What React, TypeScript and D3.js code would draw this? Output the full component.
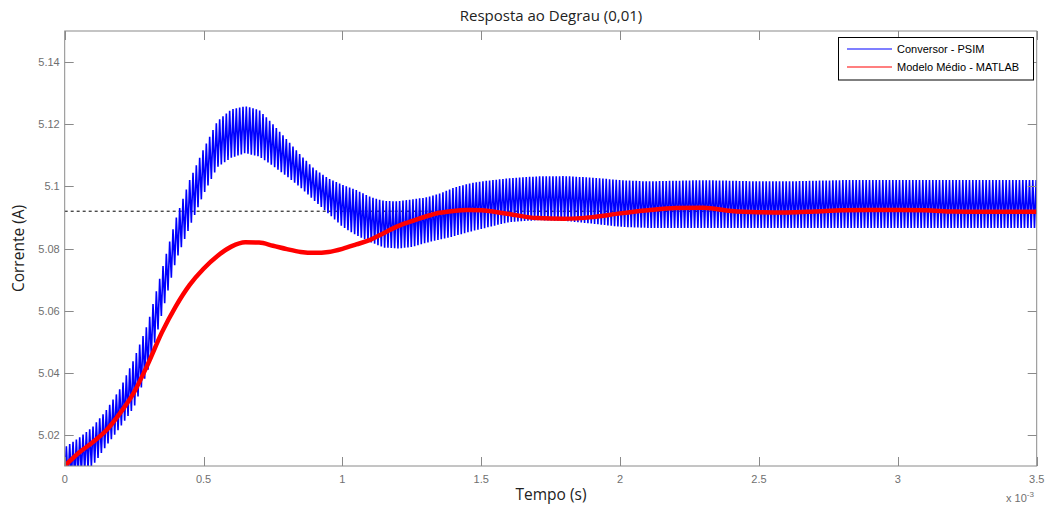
import React, { useEffect, useRef } from "react";
import * as d3 from "d3";

const timeMs = [0,0.05,0.1,0.15,0.2,0.25,0.3,0.35,0.4,0.45,0.5,0.55,0.6,0.65,0.7,0.75,0.8,0.85,0.9,0.95,1.0,1.05,1.1,1.15,1.2,1.25,1.3,1.35,1.4,1.45,1.5,1.6,1.7,1.8,1.9,2.0,2.1,2.2,2.3,2.4,2.5,2.6,2.7,2.8,2.9,3.0,3.1,3.2,3.3,3.4,3.5];

const psimUpper = [5.0160,5.0190,5.0225,5.0280,5.0350,5.0445,5.0560,5.0730,5.0895,5.1020,5.1120,5.1210,5.1248,5.1258,5.1246,5.1200,5.1150,5.1100,5.1055,5.1025,5.1005,5.0988,5.0966,5.0953,5.0952,5.0958,5.0964,5.0977,5.0995,5.1008,5.1016,5.1026,5.1032,5.1033,5.1028,5.1020,5.1016,5.1018,5.1020,5.1018,5.1016,5.1016,5.1018,5.1020,5.1020,5.1020,5.1020,5.1020,5.1020,5.1020,5.1020];

const psimLower = [5.0040,5.0070,5.0100,5.0165,5.0225,5.0290,5.0410,5.0590,5.0760,5.0870,5.0975,5.1062,5.1092,5.1107,5.1096,5.1066,5.1032,5.0996,5.0953,5.0912,5.0870,5.0843,5.0821,5.0803,5.0800,5.0805,5.0818,5.0829,5.0839,5.0852,5.0863,5.0885,5.0891,5.0889,5.0880,5.0870,5.0866,5.0866,5.0866,5.0866,5.0866,5.0866,5.0866,5.0866,5.0866,5.0866,5.0866,5.0866,5.0866,5.0866,5.0866];

const matlab = [5.0100,5.0142,5.0176,5.0215,5.0271,5.0338,5.0429,5.0530,5.0614,5.0683,5.0735,5.0776,5.0806,5.0820,5.0819,5.0809,5.0798,5.0789,5.0786,5.0789,5.0799,5.0813,5.0828,5.0850,5.0872,5.0888,5.0903,5.0915,5.0921,5.0924,5.0923,5.0911,5.0898,5.0896,5.0901,5.0913,5.0923,5.0930,5.0931,5.0921,5.0917,5.0916,5.0919,5.0923,5.0924,5.0924,5.0923,5.0919,5.0918,5.0918,5.0918];

const referenceLevel = 5.092;
const switchingPeriodMs = 0.012;

const xTicks = [0,0.5,1,1.5,2,2.5,3,3.5];
const xTickLabels = ["0","0.5","1","1.5","2","2.5","3","3.5"];
const yTicks = [5.02,5.04,5.06,5.08,5.1,5.12,5.14];
const yTickLabels = ["5.02","5.04","5.06","5.08","5.1","5.12","5.14"];

const seriesNames = ["Conversor - PSIM", "Modelo Médio - MATLAB"];
const seriesColors = ["#0000ff", "#ff0000"];
const titleText = "Resposta ao Degrau (0,01)";
const xLabel = "Tempo (s)";
const yLabel = "Corrente (A)";

const W = 1047, H = 509;
const M = { left: 64.7, right: 1036.7, top: 31, bottom: 466 };

export default function App() {
  const ref = useRef<SVGSVGElement>(null);
  useEffect(() => {
    const svg = d3.select(ref.current);
    svg.selectAll("*").remove();
    const x = d3.scaleLinear().domain([0, 3.5]).range([M.left, M.right]);
    const y = d3.scaleLinear().domain([5.01, 5.15]).range([M.bottom, M.top]);
    const axisColor = "#8a8a8a";
    const labelColor = "#6f6f6f";
    const tickFont = "'Liberation Sans', Arial, sans-serif";

    svg.append("rect").attr("x", 0).attr("y", 0).attr("width", W).attr("height", H).attr("fill", "#fff");

    const defs = svg.append("defs");
    defs.append("clipPath").attr("id", "plotclip").append("rect")
      .attr("x", M.left).attr("y", M.top).attr("width", M.right - M.left).attr("height", M.bottom - M.top);

    const g = svg.append("g").attr("clip-path", "url(#plotclip)");

    // reference dashed line
    g.append("line")
      .attr("x1", M.left).attr("x2", M.right)
      .attr("y1", y(referenceLevel)).attr("y2", y(referenceLevel))
      .attr("stroke", "#000").attr("stroke-width", 1).attr("stroke-dasharray", "3,3");

    // PSIM ripple between envelopes
    const up = d3.scaleLinear().domain(timeMs).range(psimUpper);
    const lo = d3.scaleLinear().domain(timeMs).range(psimLower);
    const pts: [number, number][] = [];
    const n = Math.ceil(3.5 / switchingPeriodMs);
    for (let k = 0; k <= n; k++) {
      const t0 = k * switchingPeriodMs;
      const t1 = t0 + switchingPeriodMs * 0.5;
      pts.push([x(t0), y(lo(Math.min(t0, 3.5)))]);
      pts.push([x(t1), y(up(Math.min(t1, 3.5)))]);
    }
    g.append("path")
      .attr("d", d3.line()(pts))
      .attr("fill", "none").attr("stroke", "#0000ff").attr("stroke-width", 1.6)
      .attr("stroke-linejoin", "miter");

    // MATLAB average model
    const line = d3.line<number>()
      .x((_, i) => x(timeMs[i]))
      .y((d) => y(d))
      .curve(d3.curveMonotoneX);
    g.append("path")
      .attr("d", line(matlab))
      .attr("fill", "none").attr("stroke", "#ff0000").attr("stroke-width", 4.5)
      .attr("stroke-linejoin", "round").attr("stroke-linecap", "round");

    // box
    svg.append("rect").attr("x", M.left).attr("y", M.top)
      .attr("width", M.right - M.left).attr("height", M.bottom - M.top)
      .attr("fill", "none").attr("stroke", axisColor).attr("stroke-width", 1);

    const tl = 9;
    xTicks.forEach((t, i) => {
      const xp = Math.round(x(t)) + 0.5;
      svg.append("line").attr("x1", xp).attr("x2", xp).attr("y1", M.bottom).attr("y2", M.bottom - tl).attr("stroke", axisColor);
      svg.append("line").attr("x1", xp).attr("x2", xp).attr("y1", M.top).attr("y2", M.top + tl).attr("stroke", axisColor);
      svg.append("text").attr("x", x(t)).attr("y", M.bottom + 17).attr("text-anchor", "middle")
        .attr("font-family", tickFont).attr("font-size", 11).attr("fill", labelColor).text(xTickLabels[i]);
    });
    yTicks.forEach((v, i) => {
      const yp = Math.round(y(v)) + 0.5;
      svg.append("line").attr("x1", M.left).attr("x2", M.left + tl).attr("y1", yp).attr("y2", yp).attr("stroke", axisColor);
      svg.append("line").attr("x1", M.right).attr("x2", M.right - tl).attr("y1", yp).attr("y2", yp).attr("stroke", axisColor);
      svg.append("text").attr("x", M.left - 5).attr("y", y(v) + 4).attr("text-anchor", "end")
        .attr("font-family", tickFont).attr("font-size", 11).attr("fill", labelColor).text(yTickLabels[i]);
    });

    // exponent
    const ex = svg.append("text").attr("x", 1006).attr("y", 502)
      .attr("font-family", tickFont).attr("font-size", 11).attr("fill", labelColor);
    ex.append("tspan").text("x 10");
    ex.append("tspan").attr("dy", -5).attr("font-size", 8).text("-3");

    const labelFont = "'Open Sans', 'Noto Sans', sans-serif";
    svg.append("text").attr("x", 551).attr("y", 21).attr("text-anchor", "middle")
      .attr("font-family", labelFont).attr("font-size", 15).attr("fill", "#222").text(titleText);
    svg.append("text").attr("x", 551).attr("y", 500).attr("text-anchor", "middle")
      .attr("font-family", labelFont).attr("font-size", 15.5).attr("fill", "#222").text(xLabel);
    svg.append("text").attr("transform", `translate(24,${(M.top + M.bottom) / 2}) rotate(-90)`)
      .attr("text-anchor", "middle")
      .attr("font-family", labelFont).attr("font-size", 15.5).attr("fill", "#222").text(yLabel);

    // legend
    const lg = svg.append("g");
    lg.append("rect").attr("x", 838.5).attr("y", 37.5).attr("width", 195).attr("height", 42.5)
      .attr("fill", "#fff").attr("stroke", "#000").attr("stroke-width", 1);
    seriesNames.forEach((s, i) => {
      const yy = 49 + i * 18;
      lg.append("line").attr("x1", 847).attr("x2", 892).attr("y1", yy).attr("y2", yy)
        .style("stroke", seriesColors[i]).attr("stroke-width", 1.2);
      lg.append("text").attr("x", 897).attr("y", yy + 4).attr("font-family", tickFont)
        .attr("font-size", 11).attr("fill", "#000").text(s);
    });
  }, []);
  return (
    <svg ref={ref} width={W} height={H} style={{ position: "absolute", left: 0, top: 0, display: "block" }} />
  );
}
